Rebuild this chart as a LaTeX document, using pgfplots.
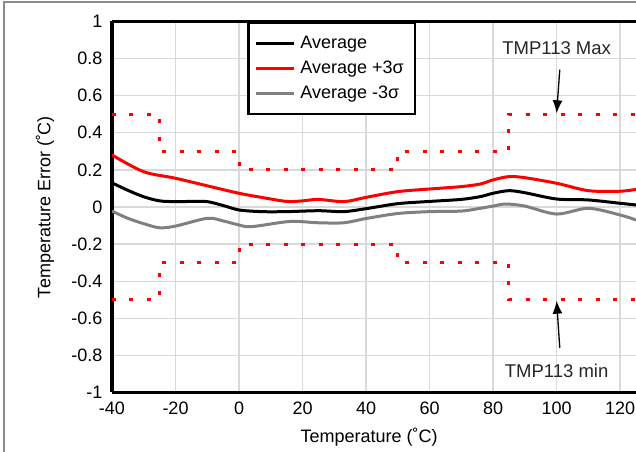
\documentclass[border=0pt]{standalone}
\usepackage{fontspec}
\setmainfont{Liberation Sans}
\usepackage{pgfplots}
\pgfplotsset{compat=1.18}
\usetikzlibrary{arrows.meta,calc}
\definecolor{gridgray}{RGB}{217,217,217}
\definecolor{sgray}{RGB}{128,128,128}
\definecolor{framegray}{RGB}{140,140,140}
\begin{document}
\begin{tikzpicture}
\begin{axis}[name=ax, at={(0pt,0pt)}, anchor=south west,
  scale only axis, width=524pt, height=371pt,
  xmin=-40, xmax=125, ymin=-1, ymax=1,
  xtick={-40,-20,0,20,40,60,80,100,120},
  ytick={-1,-0.8,-0.6,-0.4,-0.2,0,0.2,0.4,0.6,0.8,1},
  grid=major, major grid style={gridgray, line width=1.3pt},
  major tick length=0pt,
  axis x line=box, axis y line=left,
  axis line style={-, line width=3.5pt, black},
  /pgf/number format/assume math mode=true,
  tick label style={font=\fontsize{18}{20}\selectfont},
  xticklabel style={yshift=-6pt},
  yticklabel style={xshift=-6pt},
  xlabel={Temperature (˚C)}, ylabel={Temperature Error (˚C)},
  label style={font=\fontsize{18}{20}\selectfont},
  xlabel style={at={(axis description cs:0.4905,-0.1213)}, anchor=center},
  ylabel style={at={(axis description cs:-0.128,0.5)}, anchor=center},
  legend style={at={(axis description cs:0.258,1)}, anchor=north west, draw=black, line width=2.5pt,
    font=\fontsize{18}{20}\selectfont, inner xsep=6pt, inner ysep=8pt, nodes={inner xsep=5pt, inner ysep=5.5pt}},
  legend cell align=left,
  legend image code/.code={\draw[#1, line width=3pt] (0pt,0pt) -- (38pt,0pt);},
]
% limits
\addplot[forget plot, red, line width=3pt, dash pattern=on 4pt off 13.5pt] coordinates {
(-40,0.5) (-25,0.5) (-25,0.3) (0,0.3) (0,0.2) (50,0.2) (50,0.3) (85,0.3) (85,0.5) (125,0.5)};
\addplot[forget plot, red, line width=3pt, dash pattern=on 4pt off 13.5pt] coordinates {
(-40,-0.5) (-25,-0.5) (-25,-0.3) (0,-0.3) (0,-0.2) (50,-0.2) (50,-0.3) (85,-0.3) (85,-0.5) (125,-0.5)};
% Average
\addplot[black, line width=3pt, smooth, tension=0.5] coordinates {
(-40,0.13) (-35,0.09) (-30,0.055) (-25,0.033) (-20,0.029) (-15,0.03) (-10,0.029) (-5,0.008)
(0,-0.016) (7,-0.025) (15,-0.025) (25,-0.02) (33,-0.025) (40,-0.009) (50,0.018) (60,0.03)
(70,0.041) (76,0.056) (80,0.074) (85,0.088) (90,0.077) (100,0.043) (110,0.038) (120,0.02) (125,0.011)};
\addlegendentry{Average}
% +3 sigma
\addplot[red, line width=3pt, smooth, tension=0.5] coordinates {
(-40,0.28) (-30,0.19) (-20,0.155) (-9,0.11) (0,0.074) (7,0.052) (15,0.03) (20,0.033) (25,0.041)
(33,0.029) (40,0.052) (50,0.083) (60,0.097) (70,0.11) (76,0.124) (80,0.146) (85,0.164) (90,0.158)
(100,0.128) (110,0.088) (120,0.085) (125,0.095)};
\addlegendentry{Average +3σ}
% -3 sigma
\addplot[sgray, line width=3pt, smooth, tension=0.5] coordinates {
(-40,-0.022) (-35,-0.061) (-30,-0.09) (-25,-0.112) (-20,-0.103) (-10,-0.061) (-5,-0.075) (0,-0.097)
(4,-0.106) (16,-0.078) (25,-0.085) (33,-0.085) (40,-0.062) (50,-0.035) (60,-0.025) (70,-0.022)
(76,-0.007) (80,0.005) (84,0.016) (90,0.005) (100,-0.038) (110,-0.007) (120,-0.043) (125,-0.07)};
\addlegendentry{Average -3σ}
% annotations
\node[font=\fontsize{18.5}{20}\selectfont, text=black!85] at (axis cs:100,0.855) {TMP113 Max};
\draw[line width=1.3pt, -{Latex[length=13pt,width=10pt]}] (axis cs:101,0.74) -- (axis cs:100,0.505);
\node[font=\fontsize{18.5}{20}\selectfont, text=black!85] at (axis cs:100,-0.885) {TMP113 min};
\draw[line width=1.3pt, -{Latex[length=13pt,width=10pt]}] (axis cs:101,-0.76) -- (axis cs:100,-0.505);
\end{axis}
\draw[framegray, line width=2pt] ($(ax.south west)+(-108pt,-80pt)$) -- ($(ax.north west)+(-108pt,19.5pt)$) -- ($(ax.north east)+(20pt,19.5pt)$);
\pgfresetboundingbox
\path ($(ax.south west)+(-112pt,-59.5pt)$) rectangle ($(ax.north east)+(0pt,21.5pt)$);
\end{tikzpicture}
\end{document}
